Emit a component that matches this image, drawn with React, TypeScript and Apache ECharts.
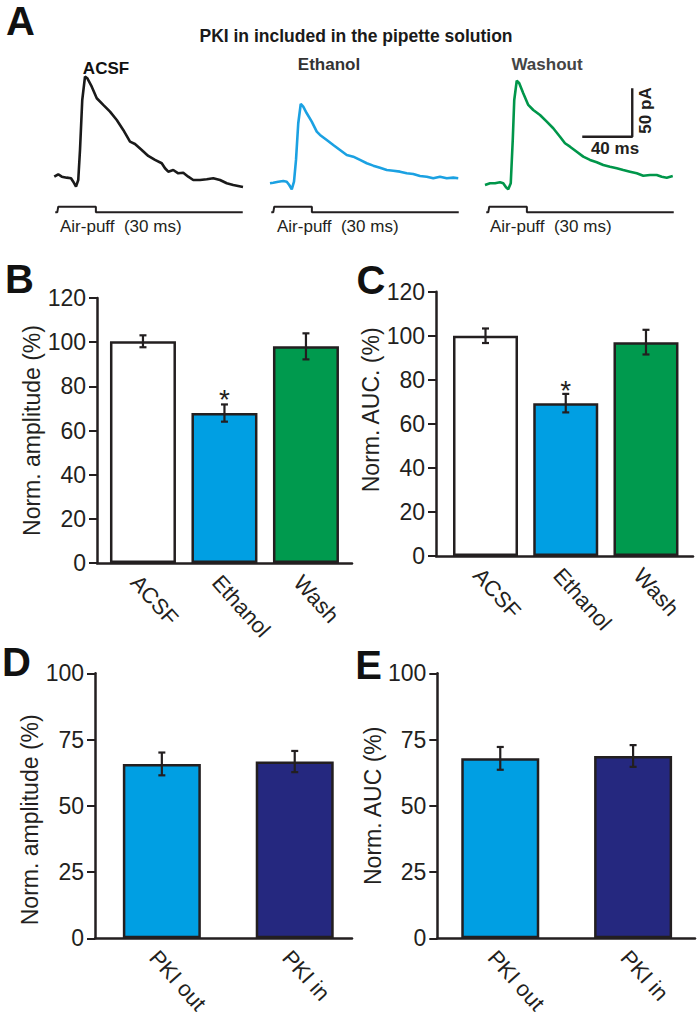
import React, { useEffect, useRef } from "react";
import * as echarts from "echarts";

// ---------- Panel A: example traces, [time (ms), current (pA)] ----------
const acsfTrace: number[][] = [
  [0.2, 3.4], [3.4, 5.9], [6.2, 3.4], [10.2, 2.4], [13.6, 1.8], [15.4, -1.8], [17.6, -6.9], [19.4, 0],
  [20.8, 31], [22.6, 82.6], [24.8, 106.7], [26.6, 105.1], [30.2, 96.4], [34.2, 84.4], [39.4, 77.5],
  [44.8, 70.6], [50.2, 62], [55.4, 51.7], [60.8, 39.6], [64.8, 37.2], [70.2, 31], [75.4, 24.8],
  [80.8, 20.7], [86.2, 17.3], [88.8, 12.1], [91.4, 8.6], [95.4, 10.3], [99.4, 6.9], [103.4, 7.5],
  [107.4, 3.4], [111.4, 0], [116.8, 0], [122.2, 0.7], [127.4, 1.8], [132.8, 0], [138.2, -3.4],
  [143.4, -5.2], [151.2, -7.2],
];
const ethanolTrace: number[][] = [
  [0, -3.4], [2.6, -2.8], [6.6, -1.8], [10.6, -1], [13.4, -1.8], [15.4, -5.2], [17.4, -9.6], [19.2, -1.8],
  [20.8, 20.7], [22.6, 58.6], [24.6, 78.5], [26.6, 75.7], [29.4, 68.9], [33.4, 60.2], [37.4, 49.9],
  [40, 46.5], [45.4, 41.3], [50.6, 36.2], [56, 31], [61.4, 25.8], [66.6, 24.1], [72, 20.7], [77.4, 17.3],
  [82.6, 14.8], [88, 12.7], [93.4, 10.3], [98.6, 9.6], [104, 8.6], [109.4, 6.9], [114.6, 6.2], [120, 4.1],
  [125.4, 3.4], [130.6, 1.8], [136, 3.4], [141.4, 1.8], [146.6, 2.4], [150.6, 1.8],
];
const washoutTrace: number[][] = [
  [0, -5.2], [4, -3.4], [8, -3.4], [12, -2.4], [14.6, -3.4], [16.8, -7.5], [18.6, -9.6], [20.6, -3.4],
  [22.2, 41.3], [23.4, 82.6], [25.4, 102.6], [27.4, 99.9], [30.6, 89.6], [34.6, 77.5], [38.6, 72.3],
  [44, 67.1], [49.4, 60.2], [54.6, 53.4], [60, 44.7], [64, 37.9], [68, 34.4], [73.4, 29.2], [78.6, 24.1],
  [84, 20.7], [89.4, 18.3], [94.6, 15.5], [100, 13.7], [105.4, 12.1], [110.6, 10.3], [116, 8.6],
  [121.4, 6.9], [126.6, 4.4], [132, 5.2], [137.4, 5.2], [141.4, 3.4], [145.4, 2.4], [150.2, 4.1],
];
const traceNames = ["ACSF", "Ethanol", "Washout"];

// air-puff command (time ms, on/off)
const puffTimes = [1, 2.6, 3.4, 33.5, 33.5, 151];
const puffState = [0, 0, 1, 1, 0, 0];

// scale bar
const scaleBarMs = 40;
const scaleBarPA = 50;

// ---------- Panels B–E ----------
const condCats = ["ACSF", "Ethanol", "Wash"];
const ampMean = [100.4, 67.9, 98.1];
const ampErr = [2.7, 3.9, 5.9];
const aucMean = [100, 69.4, 97.1];
const aucErr = [3.3, 4.2, 5.6];

const pkiCats = ["PKI out", "PKI in"];
const pkiAmpMean = [65.8, 66.7];
const pkiAmpErr = [4.3, 4.0];
const pkiAucMean = [67.9, 68.8];
const pkiAucErr = [4.3, 4.1];

const condYTicks = [0, 20, 40, 60, 80, 100, 120];
const pkiYTicks = [0, 25, 50, 75, 100];

const INK = "#231f20";
const FONT = "'Liberation Sans', Arial, Helvetica, sans-serif";
const condColors = ["#ffffff", "#009fe3", "#009a4e"];
const pkiColors = ["#009fe3", "#25287f"];
const traceColors = ["#1a1a1a", "#1ba1e2", "#00964a"];

export default function App() {
  const ref = useRef<HTMLDivElement>(null);

  useEffect(() => {
    if (!ref.current) return;
    const chart = echarts.init(ref.current, null, { renderer: "svg" });

    const grids: any[] = [];
    const xAxes: any[] = [];
    const yAxes: any[] = [];
    const series: any[] = [];

    // trace grids
    const PUFF_OFF = -33.4;
    const PUFF_ON = -27.6;
    const traceLefts = [54, 270, 485];
    const traces = [acsfTrace, ethanolTrace, washoutTrace];
    traces.forEach((tr, i) => {
      grids.push({ left: traceLefts[i], top: 63.8, width: 200, height: 154.9 });
      xAxes.push({ type: "value", gridIndex: i, min: 0, max: 160, show: false });
      yAxes.push({ type: "value", gridIndex: i, min: -40, max: 120, show: false });
      series.push({
        type: "line", name: traceNames[i], xAxisIndex: i, yAxisIndex: i, data: tr,
        showSymbol: false, symbol: "none", smooth: false,
        lineStyle: { color: traceColors[i], width: 2.6 }, z: 3,
      });
      series.push({
        type: "line", xAxisIndex: i, yAxisIndex: i,
        data: puffTimes.map((t, k) => [t, puffState[k] ? PUFF_ON : PUFF_OFF]),
        showSymbol: false, symbol: "none",
        lineStyle: { color: INK, width: 2 }, z: 3,
      });
    });
    // scale bar in washout grid
    const sbT = 77.8;
    const sbA = 44.7;
    series.push({
      type: "line", xAxisIndex: 2, yAxisIndex: 2,
      data: [[sbT, sbA], [sbT + scaleBarMs, sbA], [sbT + scaleBarMs, sbA + scaleBarPA]],
      showSymbol: false, symbol: "none",
      lineStyle: { color: INK, width: 2.4 }, z: 3,
    });

    const barPanel = (
      gi: number, box: any, xr: [number, number], cats: string[], means: number[], errs: number[],
      colors: string[], ticks: number[], name: string, nameGap: number, namePad: number[], barW: number,
      starIdx: number, starDist: number,
    ) => {
      grids.push(box);
      xAxes.push({
        type: "value", gridIndex: gi, min: xr[0], max: xr[1],
        axisLine: { show: true, onZero: false, lineStyle: { color: INK, width: 2.5 } },
        axisTick: { show: false }, splitLine: { show: false },
        axisLabel: {
          customValues: cats.map((_, k) => k),
          formatter: (v: number) => (Math.abs(v - Math.round(v)) < 1e-6 && cats[Math.round(v)] !== undefined ? cats[Math.round(v)] : ""),
          rotate: -48, fontSize: 22, color: INK, fontFamily: FONT, margin: 8,
          align: "left", verticalAlign: "top",
        },
      });
      const step = ticks[1] - ticks[0];
      yAxes.push({
        type: "value", gridIndex: gi, min: ticks[0], max: ticks[ticks.length - 1], interval: step,
        axisLine: { show: true, onZero: false, lineStyle: { color: INK, width: 2.5 } },
        axisTick: { show: true, length: 8, lineStyle: { color: INK, width: 2 } },
        axisLabel: { fontSize: 23, color: INK, fontFamily: FONT, margin: 11 },
        splitLine: { show: false },
        name, nameLocation: "middle", nameGap,
        nameTextStyle: { fontSize: 23, color: INK, fontFamily: FONT, padding: namePad },
      });
      series.push({
        type: "bar", xAxisIndex: gi, yAxisIndex: gi, barWidth: barW,
        data: means.map((m, k) => ({
          value: [k, m],
          itemStyle: { color: colors[k], borderColor: INK, borderWidth: 2.5 },
          label: k === starIdx
            ? { show: true, position: "top", distance: starDist, formatter: "*", fontSize: 28, color: INK, fontFamily: FONT }
            : { show: false },
        })),
        z: 2,
      });
      series.push({
        type: "custom", xAxisIndex: gi, yAxisIndex: gi,
        data: means.map((m, k) => [k, m, errs[k]]),
        encode: { x: 0, y: 1 },
        renderItem: (_p: any, api: any) => {
          const x = api.value(0), m = api.value(1), e = api.value(2);
          const p1 = api.coord([x, m + e]);
          const p2 = api.coord([x, m - e]);
          const hw = 3.5;
          const style = { stroke: INK, lineWidth: 2.2 };
          return {
            type: "group",
            children: [
              { type: "line", shape: { x1: p1[0], y1: p1[1], x2: p2[0], y2: p2[1] }, style },
              { type: "line", shape: { x1: p1[0] - hw, y1: p1[1], x2: p1[0] + hw, y2: p1[1] }, style },
              { type: "line", shape: { x1: p2[0] - hw, y1: p2[1], x2: p2[0] + hw, y2: p2[1] }, style },
            ],
          };
        },
        z: 4,
      });
    };

    barPanel(3, { left: 97, top: 298, width: 255, height: 265 }, [-0.564, 2.565], condCats, ampMean, ampErr,
      condColors, condYTicks, "Norm. amplitude (%)", 50, [0, 0, 0, 0], 66, 1, 0);
    barPanel(4, { left: 436, top: 291.7, width: 257, height: 264.3 }, [-0.617, 2.586], condCats, aucMean, aucErr,
      condColors, condYTicks, "Norm. AUC. (%)", 46, [0, 0, 0, 28], 65, 1, -1);
    barPanel(5, { left: 95, top: 673.3, width: 257, height: 265 }, [-0.503, 1.431], pkiCats, pkiAmpMean, pkiAmpErr,
      pkiColors, pkiYTicks, "Norm. amplitude (%)", 47, [0, 28, 0, 0], 78, -1, 0);
    barPanel(6, { left: 437.3, top: 673.3, width: 257.7, height: 265 }, [-0.474, 1.466], pkiCats, pkiAucMean, pkiAucErr,
      pkiColors, pkiYTicks, "Norm. AUC (%)", 49, [0, 0, 0, 0], 78, -1, 0);

    const txt = (text: string, x: number, y: number, o: any = {}) => ({
      type: "text", x, y, rotation: o.rotation || 0, silent: true,
      style: {
        text, fill: o.fill || INK, fontSize: o.fontSize || 17, fontWeight: o.fontWeight || "normal",
        fontFamily: FONT, align: o.align || "center", verticalAlign: "middle",
      },
    });

    const graphic: any[] = [
      txt("A", 20.5, 21, { fontSize: 40, fontWeight: "bold", fill: "#111" }),
      txt("B", 19.5, 279, { fontSize: 40, fontWeight: "bold", fill: "#111" }),
      txt("C", 371, 280, { fontSize: 40, fontWeight: "bold", fill: "#111" }),
      txt("D", 16.5, 662, { fontSize: 40, fontWeight: "bold", fill: "#111" }),
      txt("E", 368.5, 665, { fontSize: 40, fontWeight: "bold", fill: "#111" }),
      txt("PKI in included in the pipette solution", 356, 36, { fontSize: 17.5, fontWeight: "bold", fill: "#1a1a1a" }),
      txt("ACSF", 106, 68, { fontWeight: "bold", fill: "#111" }),
      txt("Ethanol", 329, 64, { fontWeight: "bold", fill: "#333" }),
      txt("Washout", 547, 64, { fontWeight: "bold", fill: "#444" }),
      txt("40 ms", 615, 148, { fontWeight: "bold" }),
      txt("50 pA", 645.5, 110.5, { fontWeight: "bold", rotation: Math.PI / 2 }),
      txt("Air-puff  (30 ms)", 60, 226, { align: "left", fontSize: 17 }),
      txt("Air-puff  (30 ms)", 277, 226, { align: "left", fontSize: 17 }),
      txt("Air-puff  (30 ms)", 490, 226, { align: "left", fontSize: 17 }),
    ];

    chart.setOption({
      animation: false,
      backgroundColor: "#ffffff",
      textStyle: { fontFamily: FONT },
      grid: grids,
      xAxis: xAxes,
      yAxis: yAxes,
      series,
      graphic,
    });

    return () => chart.dispose();
  }, []);

  return (
    <div
      ref={ref}
      style={{ position: "fixed", left: 0, top: 0, width: 700, height: 1023, background: "#fff" }}
    />
  );
}
